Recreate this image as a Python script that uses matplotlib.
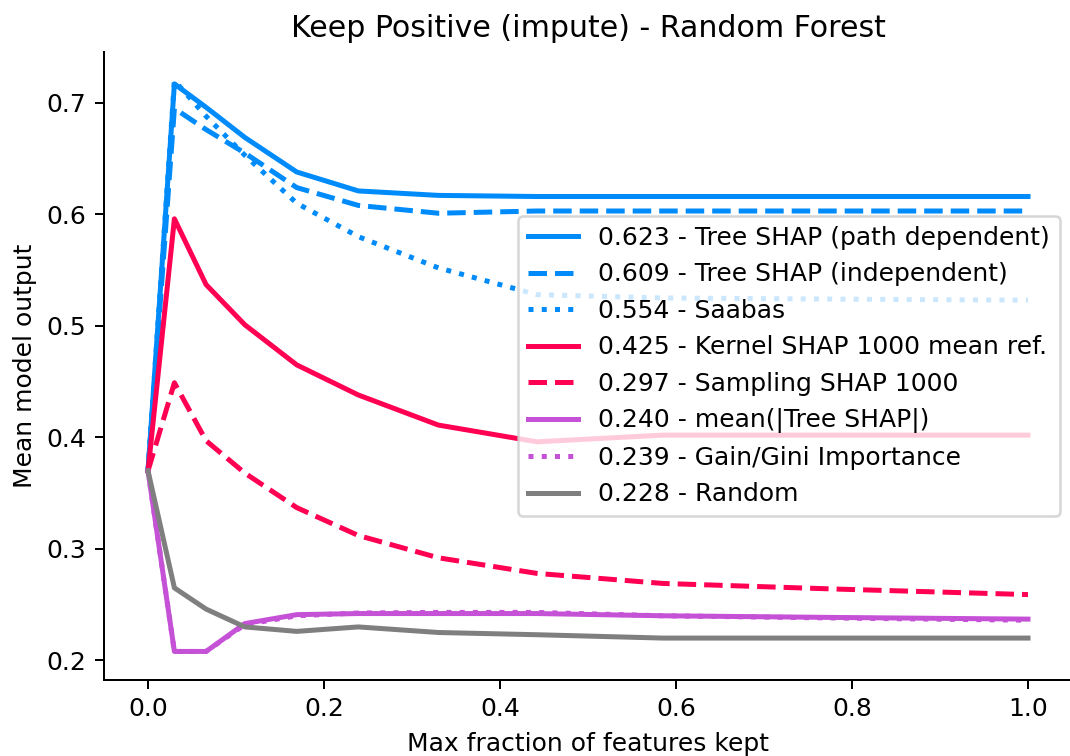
import matplotlib
matplotlib.use("Agg")
import matplotlib.pyplot as plt

x = [0.0, 0.030, 0.066, 0.110, 0.169, 0.239, 0.330, 0.442, 0.585, 0.780, 1.0]

tree_path = [0.370, 0.717, 0.696, 0.669, 0.638, 0.621, 0.617, 0.616, 0.616, 0.616, 0.616]
tree_indep = [0.370, 0.695, 0.676, 0.655, 0.624, 0.608, 0.601, 0.603, 0.603, 0.603, 0.603]
saabas = [0.370, 0.720, 0.688, 0.653, 0.610, 0.580, 0.552, 0.528, 0.525, 0.524, 0.523]
kernel = [0.370, 0.596, 0.537, 0.501, 0.465, 0.438, 0.411, 0.396, 0.402, 0.402, 0.402]
sampling = [0.370, 0.449, 0.397, 0.368, 0.337, 0.312, 0.292, 0.278, 0.269, 0.264, 0.259]
mean_abs = [0.370, 0.208, 0.208, 0.233, 0.241, 0.242, 0.242, 0.242, 0.240, 0.2385, 0.237]
gain = [0.370, 0.208, 0.208, 0.232, 0.240, 0.2425, 0.243, 0.243, 0.240, 0.238, 0.236]
random_ = [0.370, 0.265, 0.246, 0.230, 0.226, 0.230, 0.225, 0.223, 0.220, 0.220, 0.220]

labels = [
    "0.623 - Tree SHAP (path dependent)",
    "0.609 - Tree SHAP (independent)",
    "0.554 - Saabas",
    "0.425 - Kernel SHAP 1000 mean ref.",
    "0.297 - Sampling SHAP 1000",
    "0.240 - mean(|Tree SHAP|)",
    "0.239 - Gain/Gini Importance",
    "0.228 - Random",
]

blue = "#008bfb"
red = "#ff0052"
purple = "#c552d6"
gray = "#7f7f7f"

series = [
    (tree_path, blue, "-"),
    (tree_indep, blue, "--"),
    (saabas, blue, ":"),
    (kernel, red, "-"),
    (sampling, red, "--"),
    (mean_abs, purple, "-"),
    (gain, purple, ":"),
    (random_, gray, "-"),
]

DPI = 180
fig = plt.figure(figsize=(1070/DPI, 756/DPI), dpi=DPI)
ax = fig.add_axes([104/1070, 76/756, 968/1070, 628/756])
for (vals, col, ls), lab in zip(series, labels):
    ax.plot(x, vals, color=col, linestyle=ls, linewidth=2, label=lab)

ax.spines["top"].set_visible(False)
ax.spines["right"].set_visible(False)
ax.set_title("Keep Positive (impute) - Random Forest")
ax.set_xlabel("Max fraction of features kept")
ax.set_ylabel("Mean model output")
ax.legend(loc="center right")
fig.savefig("out.png", dpi=DPI)
